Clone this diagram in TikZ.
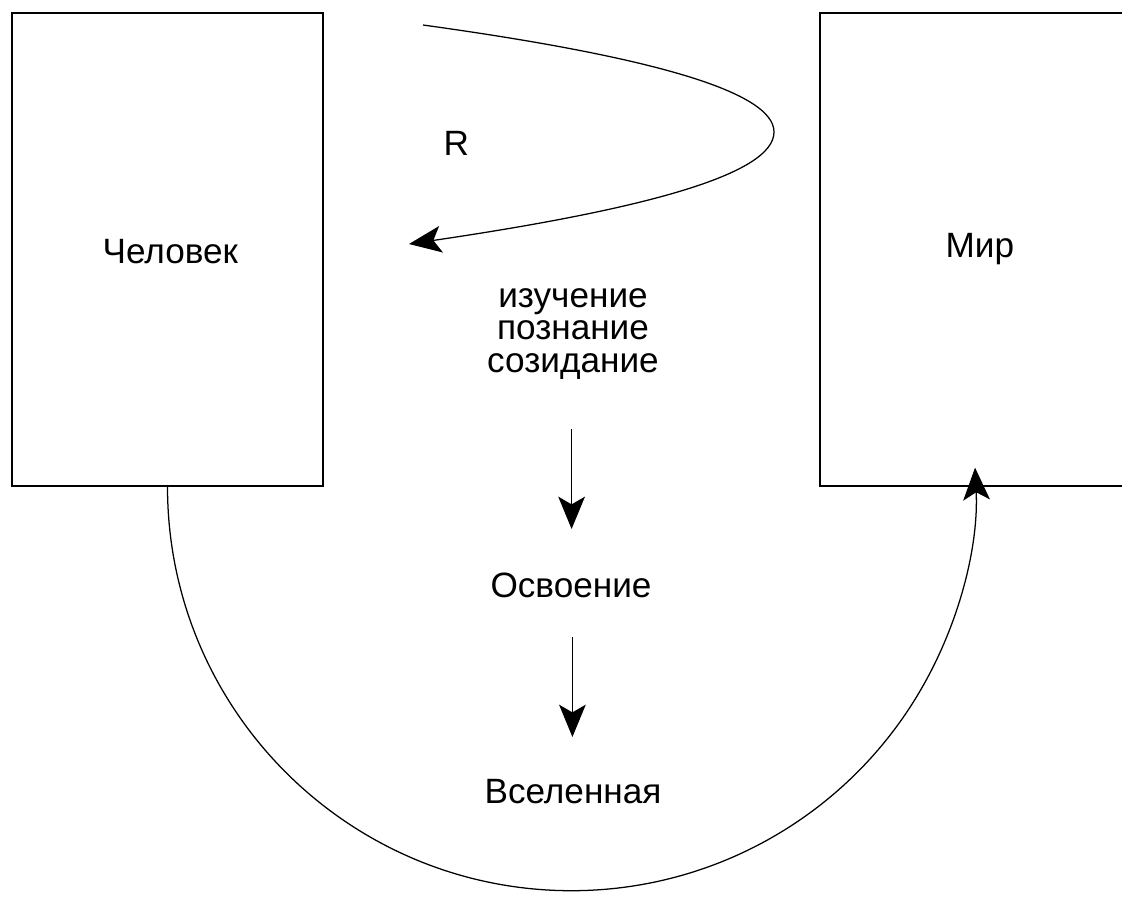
\documentclass[tikz,border=0pt]{standalone}
\usepackage{fontspec}
\setmainfont{Liberation Sans}
\usetikzlibrary{arrows.meta}

\begin{document}
\begin{tikzpicture}[
  x=0.025cm, y=0.025cm,
  line width=0.9pt,
  every node/.style={inner sep=0pt, font=\fontsize{25}{23}\selectfont},
  box/.style={draw, rectangle, minimum width=7.775cm, minimum height=11.825cm},
  lbl/.style={align=center},
  arr/.style={-{Stealth[length=23pt, width=19pt, inset=5.5pt]}}
]
\useasboundingbox (0,0) rectangle (1122,-896);
\node[box] (chel) at (167.5,-249.5) {};
\node[box, minimum width=8.5cm] (mir) at (990,-249.5) {};
\node[anchor=base west] (chelT) at (102,-263) {Человек};
\node[anchor=base west] (mirT) at (945,-257) {Мир};
\node[anchor=base west] (r) at (443,-155) {R};
\node[lbl, anchor=base] (izuch) at (573,-372) {изучение\\познание\\созидание};
\node[anchor=base] (osv) at (571,-597) {Освоение};
\node[anchor=base] (vsel) at (573,-803) {Вселенная};
\coordinate (rstart) at (423,-25);
\coordinate (rend) at (409,-244);
\draw[arr] (rstart) .. controls (640,-55) and (774,-90) .. (774,-132)
  .. controls (774,-175) and (640,-210) .. (rend);
\draw[arr, shorten <=1.425cm, shorten >=1.7cm] ([xshift=-1]izuch.base) -- ([xshift=-1]izuch.base |- osv.base);
\draw[arr, shorten <=1cm, shorten >=1.65cm] ([xshift=1]osv.base) -- ([xshift=1]osv.base |- vsel.base);
\draw[arr] (chel.south) arc[start angle=180, end angle=362.7, radius=404];
\end{tikzpicture}
\end{document}
